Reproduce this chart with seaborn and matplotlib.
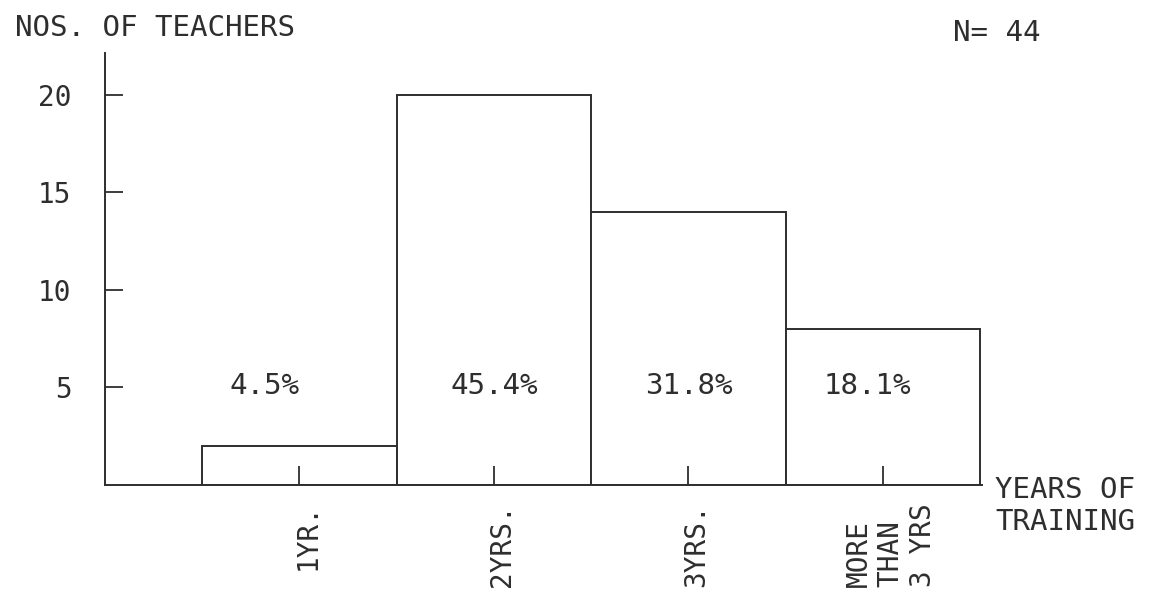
import matplotlib
matplotlib.use("Agg")
import matplotlib.pyplot as plt
import matplotlib.transforms as mtransforms
import seaborn as sns

# data
categories = ["1YR.", "2YRS.", "3YRS.", "MORE\nTHAN\n3 YRS"]
teachers = [2, 20, 14, 8]
percent_labels = ["4.5%", "45.4%", "31.8%", "18.1%"]
y_ticks = [5, 10, 15, 20]

INK = "#2e2e2e"
W, H = 1170, 595

sns.set_style("ticks")
plt.rcParams["font.family"] = ["DejaVu Sans Mono", "DejaVu Sans"]

fig = plt.figure(figsize=(W / 100, H / 100), dpi=100)
ax = fig.add_axes([105 / W, 1 - 485 / H, 877 / W, 432 / H])

sns.barplot(x=categories, y=teachers, ax=ax, width=1.0, color="white",
            edgecolor=INK, linewidth=1.4, saturation=1)

ax.set_xlim(-1.0, 3.51)
ax.set_ylim(0, 22.15)
ax.set_yticks(y_ticks)
ax.set_xlabel("")
ax.set_ylabel("")
ax.set_axisbelow(False)

for side in ["top", "right"]:
    ax.spines[side].set_visible(False)
for side in ["left", "bottom"]:
    ax.spines[side].set_color(INK)
    ax.spines[side].set_linewidth(1.4)

ax.tick_params(axis="y", direction="in", length=13, width=1.3, pad=24,
               labelsize=20, colors=INK)
ax.tick_params(axis="x", direction="in", length=14, width=1.3, pad=13,
               labelsize=20, colors=INK)

# the typed labels sit a little right of the tick marks
nudge = mtransforms.ScaledTranslation(8 / 100, 0, fig.dpi_scale_trans)
for lab in ax.get_xticklabels():
    lab.set_rotation(90)
    lab.set_va("top")
    lab.set_ha("center")
    lab.set_multialignment("left")
    lab.set_transform(lab.get_transform() + nudge)

# percentages written inside the bars
pct_shift = [-0.18, 0.0, 0.0, -0.08]
for i, txt in enumerate(percent_labels):
    ax.text(i + pct_shift[i], 5.1, txt, ha="center", va="center",
            fontsize=21, color=INK)

fig.text(15 / W, 1 - 28 / H, "NOS. OF TEACHERS", ha="left", va="center",
         fontsize=21, color=INK)
fig.text(953 / W, 1 - 33 / H, "N= 44", ha="left", va="center",
         fontsize=21, color=INK)
fig.text(995 / W, 1 - 476 / H, "YEARS OF\nTRAINING", ha="left", va="top",
         fontsize=21, color=INK, linespacing=1.2)

fig.savefig("out.png", dpi=100, facecolor="white")
